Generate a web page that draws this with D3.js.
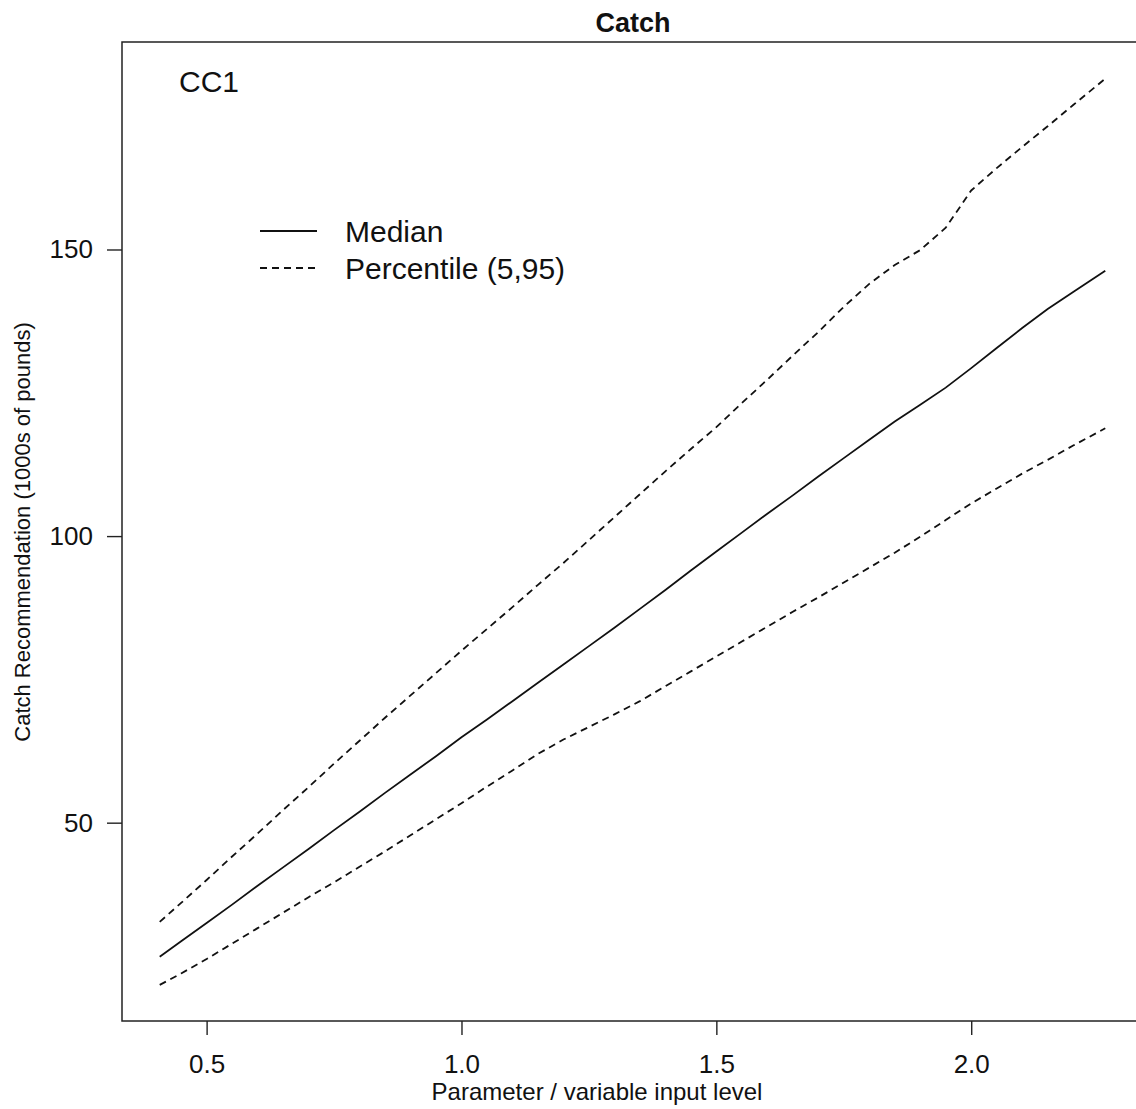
<!DOCTYPE html>
<html>
<head>
<meta charset="utf-8">
<script src="https://cdn.jsdelivr.net/npm/d3@7/dist/d3.min.js"></script>
<style>
  html, body { margin: 0; padding: 0; background: #fff; overflow: hidden; }
  svg { display: block; font-family: "Liberation Sans", Arial, sans-serif; }
</style>
</head>
<body>
<svg id="chart" width="1136" height="1109"></svg>
<script>
// ---- data ----
const inputLevel = [0.408, 0.45, 0.50, 0.55, 0.60, 0.65, 0.70, 0.75, 0.80, 0.85, 0.90, 0.95,
  1.00, 1.05, 1.10, 1.15, 1.20, 1.25, 1.30, 1.35, 1.40, 1.45, 1.50, 1.55, 1.60, 1.65,
  1.70, 1.75, 1.80, 1.85, 1.90, 1.95, 2.00, 2.05, 2.10, 2.15, 2.20, 2.263];
const medianCatch = [26.6, 29.3, 32.5, 35.7, 39.0, 42.2, 45.4, 48.7, 51.9, 55.2, 58.4, 61.6,
  64.9, 68.0, 71.2, 74.4, 77.6, 80.8, 84.0, 87.3, 90.6, 94.0, 97.3, 100.6, 103.9, 107.1,
  110.4, 113.6, 116.8, 120.0, 122.9, 125.9, 129.3, 132.8, 136.3, 139.6, 142.6, 146.3];
const upperCatch = [32.7, 36.0, 40.0, 44.1, 48.1, 52.2, 56.2, 60.3, 64.3, 68.3, 72.2, 76.1,
  80.0, 83.8, 87.6, 91.5, 95.3, 99.3, 103.3, 107.3, 111.3, 115.2, 119.0, 123.2, 127.3, 131.5,
  135.6, 140.0, 144.0, 147.3, 149.9, 153.8, 160.3, 164.2, 167.9, 171.5, 175.2, 179.8];
const lowerCatch = [21.7, 23.7, 26.2, 28.9, 31.6, 34.3, 37.0, 39.6, 42.3, 45.0, 47.8, 50.6,
  53.4, 56.3, 59.1, 62.0, 64.5, 66.7, 68.9, 71.2, 73.8, 76.4, 79.0, 81.6, 84.2, 86.8,
  89.3, 91.9, 94.5, 97.1, 99.9, 102.8, 105.7, 108.3, 110.9, 113.3, 115.8, 118.8];
const xTicks = [0.5, 1.0, 1.5, 2.0];
const yTicks = [50, 100, 150];
const legendLabels = ["Median", "Percentile (5,95)"];
const chartTitle = "Catch";
const panelLabel = "CC1";
const xTitle = "Parameter / variable input level";
const yTitle = "Catch Recommendation (1000s of pounds)";

// ---- layout ----
const svg = d3.select("#chart");
const L = 122, R = 1143, T = 42, B = 1021;
const x = d3.scaleLinear().domain([0.334, 2.337]).range([L, R]);
const y = d3.scaleLinear().domain([15.4, 186.2]).range([B, T]);

// frame
svg.append("rect").attr("x", L).attr("y", T).attr("width", R - L).attr("height", B - T)
  .attr("fill", "none").attr("stroke", "#222").attr("stroke-width", 1.5);

// axes
const xAxis = svg.append("g").attr("transform", `translate(0,${B})`)
  .call(d3.axisBottom(x).tickValues(xTicks).tickFormat(d3.format(".1f")).tickSize(14).tickPadding(20));
const yAxis = svg.append("g").attr("transform", `translate(${L},0)`)
  .call(d3.axisLeft(y).tickValues(yTicks).tickFormat(d3.format("d")).tickSize(15).tickPadding(14));
[xAxis, yAxis].forEach(g => {
  g.select(".domain").remove();
  g.selectAll(".tick line").attr("stroke", "#222").attr("stroke-width", 1.4);
  g.selectAll(".tick text").attr("fill", "#111").style("font-size", "26px")
    .style("font-family", "'Liberation Sans', Arial, sans-serif");
});

// lines
const line = d3.line().x((d, i) => x(inputLevel[i])).y(d => y(d));
const series = [
  { values: upperCatch, dash: "7,5" },
  { values: lowerCatch, dash: "7,5" },
  { values: medianCatch, dash: null }
];
svg.selectAll("path.series").data(series).enter().append("path")
  .attr("class", "series")
  .attr("d", d => line(d.values))
  .attr("fill", "none").attr("stroke", "#111").attr("stroke-width", 1.8)
  .attr("stroke-dasharray", d => d.dash);

// titles
svg.append("text").attr("x", 633).attr("y", 32).attr("text-anchor", "middle")
  .style("font-size", "27px").style("font-weight", "bold").attr("fill", "#111").text(chartTitle);
svg.append("text").attr("x", 597).attr("y", 1100).attr("text-anchor", "middle")
  .style("font-size", "24px").attr("fill", "#111").text(xTitle);
svg.append("text").attr("transform", "translate(30,532) rotate(-90)").attr("text-anchor", "middle")
  .style("font-size", "22px").attr("fill", "#111").text(yTitle);
svg.append("text").attr("x", 179).attr("y", 92)
  .style("font-size", "30px").attr("fill", "#111").text(panelLabel);

// legend
const leg = svg.append("g");
legendLabels.forEach((lab, i) => {
  const yy = 231 + i * 37;
  leg.append("line").attr("x1", 260).attr("x2", 317).attr("y1", yy).attr("y2", yy)
    .attr("stroke", "#111").attr("stroke-width", 1.8)
    .attr("stroke-dasharray", i === 0 ? null : "7,5");
  leg.append("text").attr("x", 345).attr("y", yy).attr("dy", "0.36em")
    .style("font-size", "30px").attr("fill", "#111").text(lab);
});
</script>
</body>
</html>
